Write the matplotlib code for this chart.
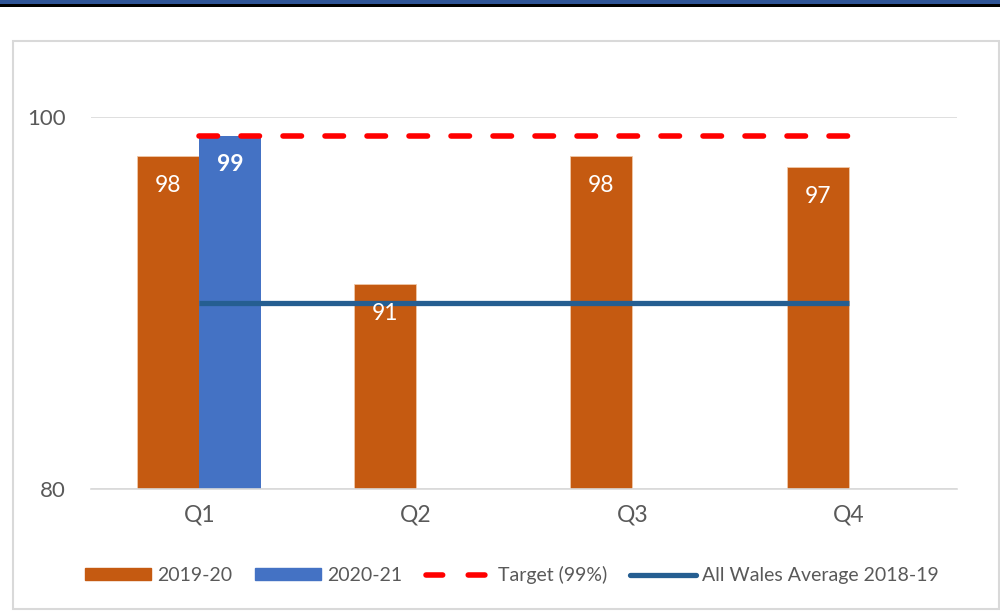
import matplotlib.pyplot as plt
import numpy as np
from matplotlib.patches import Rectangle
from matplotlib.lines import Line2D

plt.rcParams['font.family'] = ['Lato', 'DejaVu Sans']

# Data
quarters = ["Q1", "Q2", "Q3", "Q4"]
values_2019 = [97.9, 91.0, 97.9, 97.3]
values_2020 = [99.0, None, None, None]
target = [99, 99, 99, 99]
wales_avg = [90, 90, 90, 90]

orange = '#C55A11'
blue = '#4472C4'
red = '#FF0000'
navy = '#255E91'
grey_text = '#595959'

fig = plt.figure(figsize=(10, 6.11), dpi=100)

# dark band at the very top (cut off title bar)
fig.patches.append(Rectangle((0, 1 - 4 / 611), 1, 4 / 611, transform=fig.transFigure,
                             facecolor='#2F5597', edgecolor='none', zorder=0))
fig.patches.append(Rectangle((0, 1 - 6.5 / 611), 1, 2.5 / 611, transform=fig.transFigure,
                             facecolor='black', edgecolor='none', zorder=0))
# chart area border
fig.patches.append(Rectangle((13 / 1000, 1 - 609 / 611), 986 / 1000, 568 / 611,
                             transform=fig.transFigure, facecolor='none',
                             edgecolor='#D9D9D9', linewidth=1.5, zorder=0))

ax = fig.add_axes([0.091, 1 - 489 / 611, 0.866, 372 / 611])

x = np.arange(len(quarters))
w = 0.286

ax.bar(x - w / 2, values_2019, w, color=orange, edgecolor='#F0C8A8',
       linewidth=0.6, zorder=2, label='2019-20')
x2 = [x[i] + w / 2 for i, v in enumerate(values_2020) if v is not None]
v2 = [v for v in values_2020 if v is not None]
ax.bar(x2, v2, w, color=blue, zorder=2, label='2020-21')

ax.plot(x, target, color=red, linewidth=4, linestyle=(0, (3.33, 4.23)),
        dash_capstyle='round', zorder=3, label='Target (99%)')
ax.plot(x, wales_avg, color=navy, linewidth=3.8, solid_capstyle='butt', zorder=3,
        label='All Wales Average 2018-19')

# value labels inside the bar tops
for xi, v in zip(x - w / 2, values_2019):
    ax.annotate(f"{v:.0f}", (xi, v), xytext=(0, -21), textcoords='offset points',
                ha='center', va='center', color='white', fontsize=16.5, zorder=4)
for xi, v in zip(x2, v2):
    ax.annotate(f"{v:.0f}", (xi, v), xytext=(0, -21), textcoords='offset points',
                ha='center', va='center', color='white', fontsize=16.5,
                fontweight='bold', zorder=4)

ax.set_ylim(80, 100)
ax.set_xlim(-0.5, 3.5)
ax.set_yticks([80, 100])
ax.set_xticks(x)
ax.set_xticklabels(quarters)
ax.tick_params(axis='y', length=0, pad=18, labelsize=16, labelcolor=grey_text)
ax.tick_params(axis='x', length=0, pad=11, labelsize=16.5, labelcolor=grey_text)
ax.grid(axis='y', color='#D9D9D9', linewidth=1.2, zorder=0)
ax.set_axisbelow(True)
for s in ['top', 'right', 'left']:
    ax.spines[s].set_visible(False)
ax.spines['bottom'].set_color('#D9D9D9')
ax.spines['bottom'].set_linewidth(1.2)

handles = [
    Rectangle((0, 0), 1, 1, color=orange),
    Rectangle((0, 0), 1, 1, color=blue),
    Line2D([0], [0], color=red, linewidth=4, linestyle=(0, (3.0, 4.6)), dash_capstyle='round'),
    Line2D([0], [0], color=navy, linewidth=3.8, solid_capstyle='round'),
]
labels = ['2019-20', '2020-21', 'Target (99%)', 'All Wales Average 2018-19']
fig.legend(handles, labels, loc='center', bbox_to_anchor=(0.512, 1 - 575 / 611),
           ncol=4, frameon=False, fontsize=14, handlelength=3.4, handleheight=0.6,
           handletextpad=0.3, columnspacing=1.2, labelcolor=grey_text)

fig.savefig('out.png', dpi=100)
